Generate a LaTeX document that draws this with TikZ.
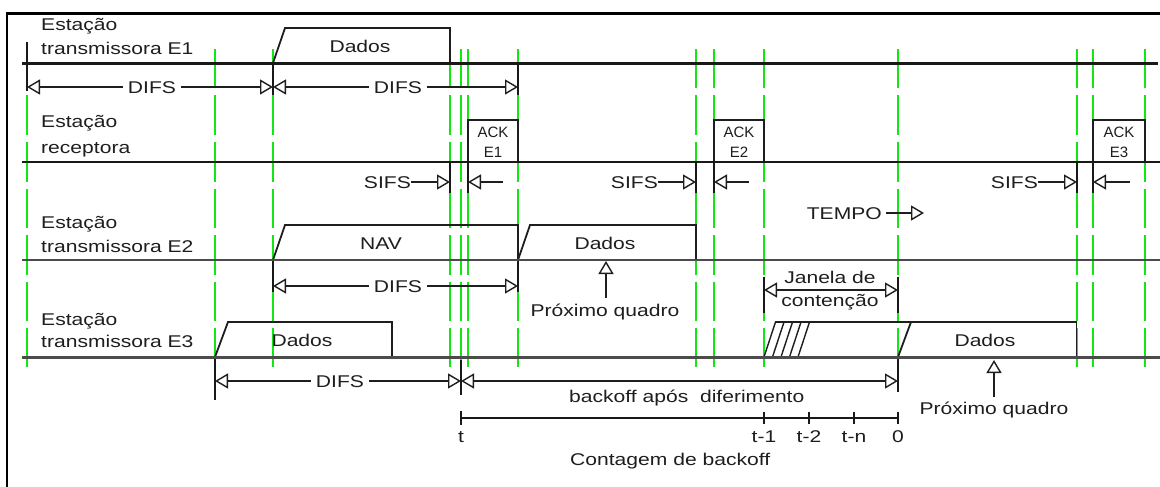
\documentclass[tikz,border=0pt]{standalone}
\usepackage{fontspec}
\setmainfont{Liberation Sans}[FakeStretch=1.24]
\newfontfamily\ackfont{Liberation Sans}
\usetikzlibrary{arrows.meta}
\definecolor{gridgreen}{RGB}{20,230,20}
\definecolor{ink}{RGB}{30,30,30}
\begin{document}
\begin{tikzpicture}[x=1pt,y=-1pt,
  gline/.style={draw=gridgreen,line width=2pt,dash pattern=on 39.5pt off 7pt},
  frm/.style={draw=black,line width=2.2pt},
  tlA/.style={draw=black!90,line width=2.2pt},
  tlB/.style={draw=black!70,line width=2.6pt},
  bx/.style={draw=ink,line width=1.8pt,line join=miter},
  tk/.style={draw=black!90,line width=1.8pt},
  dimline/.style={draw=ink,line width=1.4pt},
  bothtips/.style={dimline,{Triangle[open,length=13pt,width=15pt,line width=1.4pt]}-{Triangle[open,length=13pt,width=15pt,line width=1.4pt]}},
  endtip/.style={dimline,-{Triangle[open,length=13pt,width=15pt,line width=1.4pt]}},
  txt/.style={font=\fontsize{17}{20}\selectfont,text=ink,inner sep=0pt},
  lblw/.style={txt,fill=white,inner xsep=5pt,inner ysep=1pt},
  ack/.style={font=\ackfont\fontsize{15}{18}\selectfont,text=ink,inner sep=0pt}
]
\useasboundingbox (0,0) rectangle (1160,487);
\fill[white] (0,0) rectangle (1160,487);

% green dashed grid
\foreach \gx in {27,215,273,450,461,468,518,696,714,764,898,1077,1093,1145}
  \draw[gline] (\gx,49) -- (\gx,367);

% frame
\draw[frm] (7,487) -- (7,13.5) -- (1160,13.5);

% ---------------- Station labels
\node[txt,anchor=base west] (l1a) at (41,31) {Estação};
\node[txt,anchor=base west] (l1b) at (41,54.5) {transmissora E1};
\node[txt,anchor=base west] (l2a) at (41,128) {Estação};
\node[txt,anchor=base west] (l2b) at (41,153) {receptora};
\node[txt,anchor=base west] (l3a) at (41,228) {Estação};
\node[txt,anchor=base west] (l3b) at (41,252) {transmissora E2};
\node[txt,anchor=base west] (l4a) at (41,325) {Estação};
\node[txt,anchor=base west] (l4b) at (41,347) {transmissora E3};

% ---------------- frames / boxes
\draw[bx] (273,63) -- (285,28) -- (450,28) -- (450,63);
\node[txt,anchor=base] (d1) at (360,53) {Dados};
\draw[bx] (468,162) -- (468,120) -- (518,120) -- (518,162);
\node[ack,anchor=base] (a1a) at (493,137) {ACK};
\node[ack,anchor=base] (a1b) at (493,157) {E1};
\draw[bx] (714,162) -- (714,120) -- (764,120) -- (764,162);
\node[ack,anchor=base] (a2a) at (739,137) {ACK};
\node[ack,anchor=base] (a2b) at (739,157) {E2};
\draw[bx] (1093,162) -- (1093,120) -- (1145,120) -- (1145,162);
\node[ack,anchor=base] (a3a) at (1119,137) {ACK};
\node[ack,anchor=base] (a3b) at (1119,157) {E3};
\draw[bx] (273,260) -- (285,225) -- (518,225) -- (518,260);
\node[txt,anchor=base] (nav) at (381,249) {NAV};
\draw[bx] (518,260) -- (530,225) -- (696,225) -- (696,260);
\node[txt,anchor=base] (d2) at (605,249) {Dados};
\draw[bx] (215,357) -- (228,322) -- (392,322) -- (392,357);
\node[txt,anchor=base] (d3) at (302,346) {Dados};
\draw[bx] (775,322) -- (1076.5,322) -- (1076.5,357);
\foreach \hx in {764,772.5,781,789.5,798}
  \draw[draw=ink,line width=1.4pt] (\hx,357) -- ({\hx+11.5},322);
\draw[bx] (898,357) -- (911,322);
\node[txt,anchor=base] (d4) at (985,346) {Dados};

% ---------------- ticks
\draw[tk] (27,42) -- (27,91);
\draw[tk] (273,63) -- (273,95);
\draw[tk] (518,63) -- (518,95);
\draw[tk] (450,162) -- (450,193);
\draw[tk] (468,162) -- (468,193);
\draw[tk] (696,162) -- (696,193);
\draw[tk] (714,162) -- (714,193);
\draw[tk] (1077,162) -- (1077,193);
\draw[tk] (1093,162) -- (1093,193);
\draw[tk] (273,260) -- (273,292);
\draw[tk] (518,260) -- (518,292);
\draw[tk] (764,277) -- (764,313);
\draw[tk] (898,277) -- (898,313);
\draw[tk] (215,357) -- (215,400);
\draw[tk] (461,360) -- (461,395);
\draw[tk] (898,357) -- (898,392);

% ---------------- main time lines
\draw[tlA] (22,63.5) -- (1158,63.5);
\draw[tlA] (22,162) -- (1160,162);
\draw[tlB] (22,260) -- (1160,260);
\draw[tlB] (22,357.5) -- (1160,357.5);

% ---------------- DIFS row E1
\coordinate (p1) at (27,87);
\coordinate (p2) at (273,87);
\coordinate (p3) at (518,87);
\draw[bothtips] (p1) -- (p2);
\draw[bothtips] (p2) -- (p3);
\node[lblw,anchor=base] (dif1) at (152,93) {DIFS};
\node[lblw,anchor=base] (dif2) at (398,93) {DIFS};

% ---------------- SIFS rows
\node[txt,anchor=base east] (s1) at (411,188) {SIFS};
\coordinate (s1t) at (450,182);
\draw[endtip] (s1.east |- s1t) -- (s1t);
\coordinate (k1a) at (503,182); \coordinate (k1t) at (468,182);
\draw[endtip] (k1a) -- (k1t);
\node[txt,anchor=base east] (s2) at (658,188) {SIFS};
\coordinate (s2t) at (696,182);
\draw[endtip] (s2.east |- s2t) -- (s2t);
\coordinate (k2a) at (749,182); \coordinate (k2t) at (714,182);
\draw[endtip] (k2a) -- (k2t);
\node[txt,anchor=base east] (s3) at (1038,188) {SIFS};
\coordinate (s3t) at (1077,182);
\draw[endtip] (s3.east |- s3t) -- (s3t);
\coordinate (k3a) at (1130,182); \coordinate (k3t) at (1093,182);
\draw[endtip] (k3a) -- (k3t);

% ---------------- TEMPO
\node[txt,anchor=base east] (tempo) at (882,219) {TEMPO};
\coordinate (tempoT) at (924,213);
\draw[endtip] ([xshift=4pt]tempo.east |- tempoT) -- (tempoT);

% ---------------- DIFS row E2
\coordinate (q1) at (273,286);
\coordinate (q2) at (518,286);
\draw[bothtips] (q1) -- (q2);
\node[lblw,anchor=base] (dif3) at (398,292) {DIFS};

% Próximo quadro (E2)
\node[txt,anchor=base] (px1) at (605,316) {Próximo quadro};
\coordinate (px1b) at (606,298);
\coordinate (px1t) at (606,261);
\draw[endtip] (px1b) -- (px1t);

% contention window
\coordinate (c1) at (764,290);
\coordinate (c2) at (898,290);
\draw[bothtips] (c1) -- (c2);
\node[txt,anchor=base] (jan1) at (830,283) {Janela de};
\node[txt,anchor=base] (jan2) at (830,306.5) {contenção};

% ---------------- DIFS / backoff row E3
\coordinate (r1) at (215,381);
\coordinate (r2) at (461,381);
\coordinate (r3) at (898,381);
\draw[bothtips] (r1) -- (r2);
\draw[bothtips] (r2) -- (r3);
\node[lblw,anchor=base] (dif4) at (340,387) {DIFS};
\node[txt,anchor=base west] (bko) at (569,402) {backoff após\ \ diferimento};

% Próximo quadro (E3)
\node[txt,anchor=base] (px2) at (994,414) {Próximo quadro};
\coordinate (px2b) at (994,397);
\coordinate (px2t) at (994,360);
\draw[endtip] (px2b) -- (px2t);

% ---------------- backoff counter
\coordinate (ax0) at (461,418);
\coordinate (ax1) at (898,418);
\draw[tk,line width=1.5pt] (ax0) -- (ax1);
\draw[tk,line width=1.5pt] (461,411) -- (461,425);
\foreach \tx in {764,809,854,898}
  \draw[tk,line width=1.5pt] (\tx,412) -- (\tx,424);
\node[txt,anchor=base] (tt0) at (461,442) {t};
\node[txt,anchor=base] (tt1) at (764,442) {t-1};
\node[txt,anchor=base] (tt2) at (809,442) {t-2};
\node[txt,anchor=base] (tt3) at (854,442) {t-n};
\node[txt,anchor=base] (tt4) at (898,442) {0};
\node[txt,anchor=base west] (cnt) at (570,465) {Contagem de backoff};
\end{tikzpicture}
\end{document}
